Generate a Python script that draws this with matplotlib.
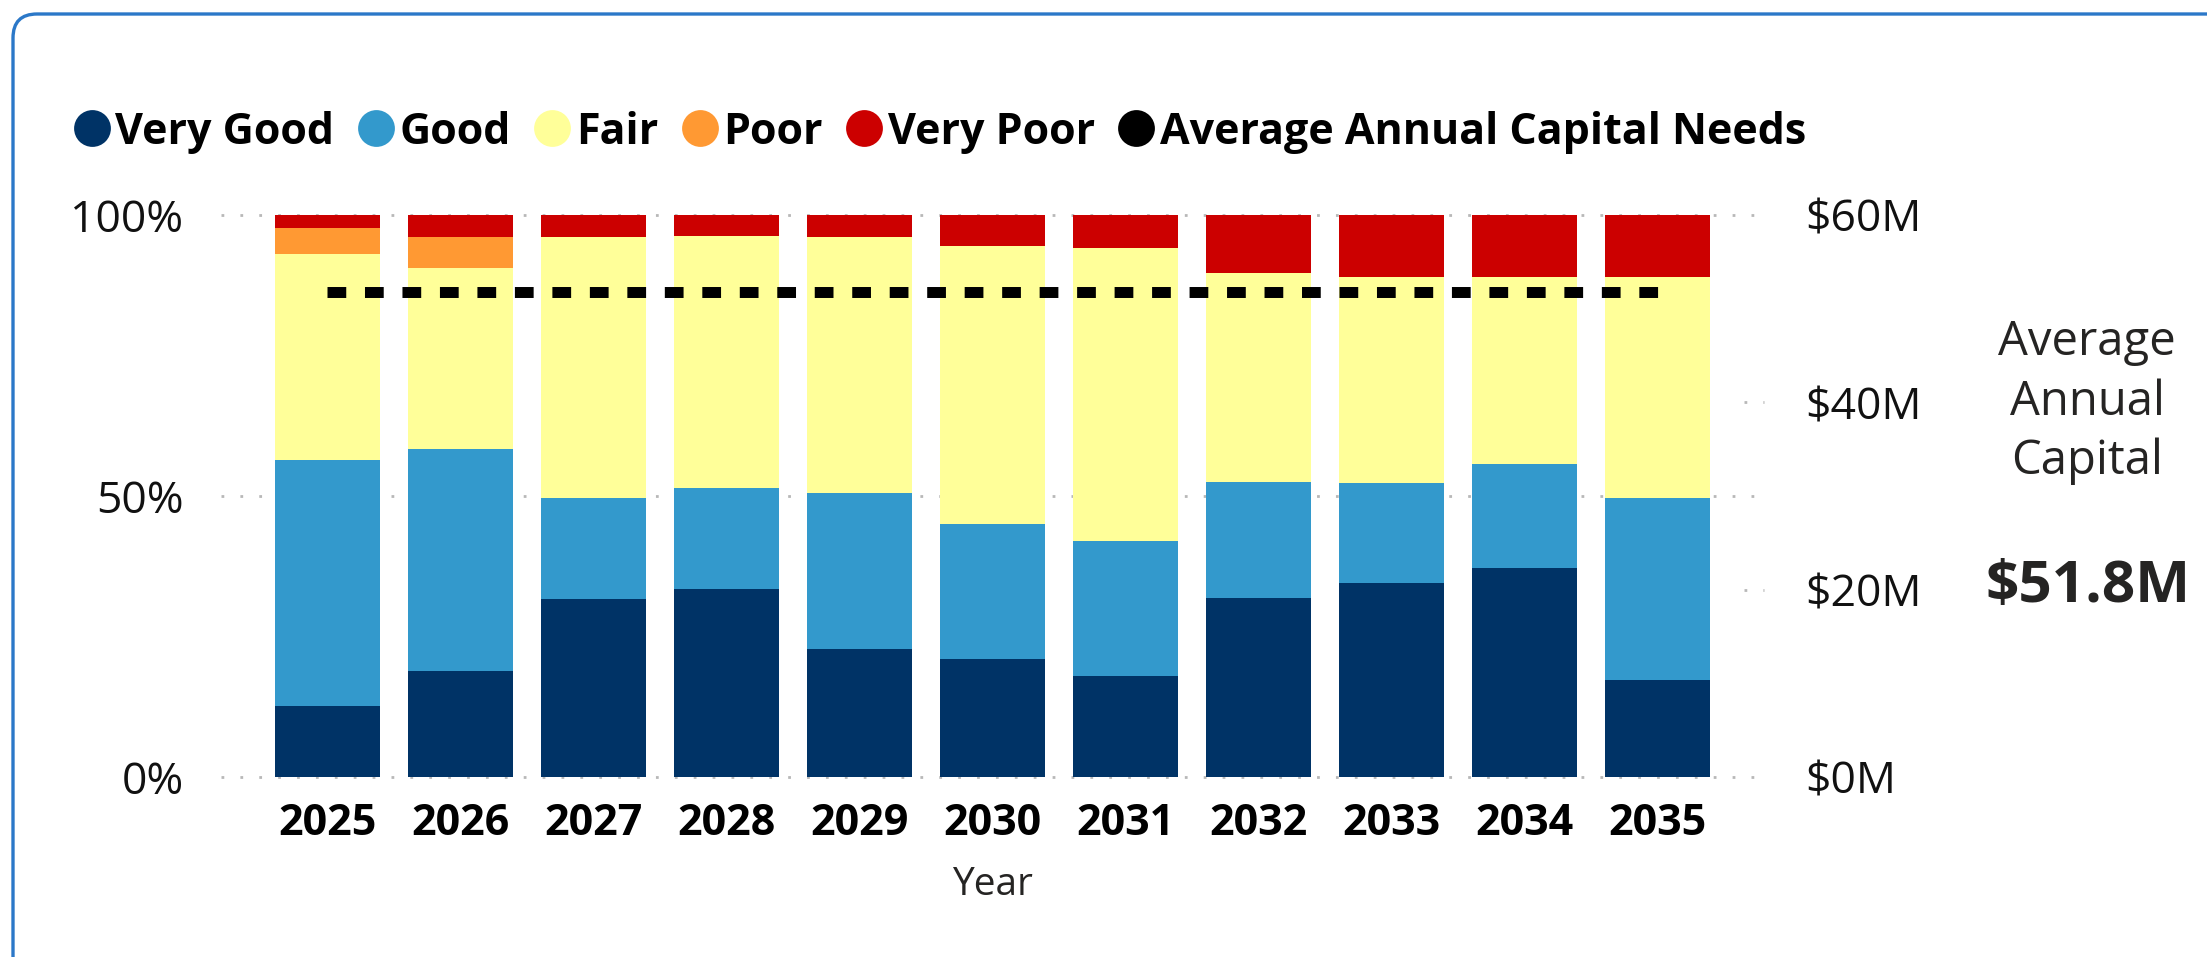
import matplotlib
matplotlib.use('Agg')
import matplotlib.pyplot as plt
from matplotlib.lines import Line2D
from matplotlib.patches import FancyBboxPatch
from matplotlib.transforms import IdentityTransform
import numpy as np

plt.rcParams['font.family'] = ['Open Sans', 'DejaVu Sans']

years = ['2025', '2026', '2027', '2028', '2029', '2030', '2031', '2032', '2033', '2034', '2035']
very_good = [12.7, 18.9, 31.7, 33.5, 22.8, 21.0, 18.0, 31.9, 34.6, 37.2, 17.3]
good = [43.7, 39.4, 17.9, 18.0, 27.7, 24.1, 24.0, 20.6, 17.8, 18.5, 32.4]
fair = [36.6, 32.2, 46.5, 44.7, 45.5, 49.3, 52.1, 37.1, 36.5, 33.2, 39.3]
poor = [4.7, 5.6, 0, 0, 0, 0, 0, 0, 0, 0, 0]
very_poor = [2.3, 3.9, 3.9, 3.8, 4.0, 5.6, 5.9, 10.4, 11.1, 11.1, 11.0]
avg_capital_needs = [51.8, 51.8, 51.8, 51.8, 51.8, 51.8, 51.8, 51.8, 51.8, 51.8, 51.8]  # $M

series_names = ['Very Good', 'Good', 'Fair', 'Poor', 'Very Poor']
series_vals = [very_good, good, fair, poor, very_poor]
colors = ['#003366', '#3399CC', '#FFFF99', '#FF9933', '#CC0000']
avg_label = 'Average Annual Capital Needs'

W, H = 2207, 957
fig = plt.figure(figsize=(W / 100, H / 100), dpi=100)
ax = fig.add_axes([221 / W, 1 - 777 / H, (1764 - 221) / W, (777 - 215) / H])
ax2 = ax.twinx()

x = np.arange(len(years))
bottom = np.zeros(len(years))
for name, vals, c in zip(series_names, series_vals, colors):
    ax.bar(x, vals, bottom=bottom, width=0.79, color=c, edgecolor='none', zorder=2, label=name)
    bottom += np.array(vals)

ax.set_xlim(-0.8, 10.8)
ax.set_ylim(0, 100)
ax.set_yticks([0, 50, 100])
ax.set_yticklabels(['0%', '50%', '100%'])
ax.set_xticks(x)
ax.set_xticklabels(years, fontweight='bold')
ax.tick_params(axis='x', length=0, pad=18, labelsize=31, labelcolor='#000000')
ax.tick_params(axis='y', length=0, pad=27, labelsize=32, labelcolor='#111111')
for s in ax.spines.values():
    s.set_visible(False)
grid_kw = dict(color='#B8B8B8', lw=2.0, dashes=(1, 5.8), zorder=0, clip_on=False)
for yv in [0, 50, 100]:
    ax.axhline(yv, **grid_kw)

ax.set_xlabel('Year', fontsize=28, color='#252423')
ax.xaxis.set_label_coords(0.5, -0.192)
ax.xaxis.label.set_va('center')

ax2.set_ylim(0, 60)
ax2.set_yticks([0, 20, 40, 60])
ax2.set_yticklabels(['$0M', '$20M', '$40M', '$60M'])
ax2.tick_params(axis='y', length=0, pad=30, labelsize=32, labelcolor='#111111')
for s in ax2.spines.values():
    s.set_visible(False)
for yv in [20, 40]:
    ax2.plot([10.65, 10.8], [yv, yv], **grid_kw)

ax2.plot(x, avg_capital_needs, color='black', lw=7.9, dashes=(1.708, 1.708),
         solid_capstyle='butt', dash_capstyle='butt', zorder=5)
ax2.set_zorder(ax.get_zorder() + 1)
ax2.patch.set_visible(False)

# legend
handles = [Line2D([0], [0], marker='o', ls='none', markersize=26.5, markerfacecolor=c,
                  markeredgecolor='none') for c in colors]
handles.append(Line2D([0], [0], marker='o', ls='none', markersize=26.5,
                      markerfacecolor='black', markeredgecolor='none'))
labels = series_names + [avg_label]
leg = fig.legend(handles, labels, loc='center left', bbox_to_anchor=(74 / W, 1 - 132 / H),
                 ncol=6, frameon=False, borderpad=0, borderaxespad=0, handlelength=0.83,
                 handletextpad=0.13, columnspacing=0.55,
                 prop={'family': ['Open Sans', 'DejaVu Sans'], 'weight': 'bold', 'size': 31})

# card text on the right
fig.text(2087 / W, 1 - 402 / H, 'Average\nAnnual\nCapital', ha='center', va='center',
         fontsize=34, color='#252423', linespacing=1.33)
fig.text(2088 / W, 1 - 587 / H, '$51.8M', ha='center', va='center',
         fontsize=42, fontweight='bold', color='#252423')

# card border
border = FancyBboxPatch((13, -60), W + 100, H - 14 + 60,
                        boxstyle='round,pad=0,rounding_size=24',
                        transform=IdentityTransform(), fill=False,
                        edgecolor='#2B78C8', linewidth=2.4, clip_on=False)
fig.add_artist(border)

fig.savefig('out.png', dpi=100)
